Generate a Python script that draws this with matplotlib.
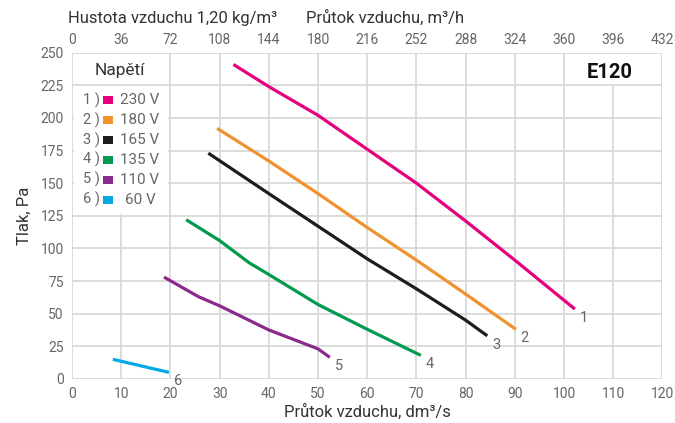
import matplotlib
matplotlib.use("Agg")
import matplotlib.pyplot as plt
from matplotlib.patches import Rectangle

# ---- data ----
x1 = [32.8, 40, 50, 60, 70, 80, 90, 102.2]
y1 = [241, 224, 202, 176, 150, 121, 91, 53.5]
x2 = [29.5, 40, 50, 60, 70, 80, 90.2]
y2 = [192, 167, 142, 116, 91, 65, 38]
x3 = [27.7, 40, 50, 60, 70, 80, 84.4]
y3 = [173, 142, 117, 92, 69, 45, 33]
x4 = [23.2, 30, 36, 40, 50, 60, 70.9]
y4 = [122, 106, 89, 80, 57, 38, 18]
x5 = [18.7, 25.7, 30, 40, 50, 52.4]
y5 = [78, 63, 56, 37.5, 23, 16.5]
x6 = [8.3, 19.7]
y6 = [15, 5]
series_x = [x1, x2, x3, x4, x5, x6]
series_y = [y1, y2, y3, y4, y5, y6]
curve_labels = ["1", "2", "3", "4", "5", "6"]
voltages = ["230 V", "180 V", "165 V", "135 V", "110 V", "60 V"]
colors = ["#e6007e", "#f0922e", "#1d1d1b", "#009a4e", "#8a2a8e", "#00a8e6"]
xticks = list(range(0, 121, 10))
yticks = list(range(0, 251, 25))
top_ticks = [0, 36, 72, 108, 144, 180, 216, 252, 288, 324, 360, 396, 432]

plt.rcParams['font.family'] = ['Roboto', 'DejaVu Sans']
TICK = "#666666"
TXT = "#333333"
GRID = "#d9d9d9"
FS = 10

fig = plt.figure(figsize=(6.75, 4.23), dpi=100)
ax = fig.add_axes([0.1067, 0.1043, 0.8747, 0.7711])
ax.set_xlim(0, 120)
ax.set_ylim(0, 250)
ax.set_xticks(xticks)
ax.set_yticks(yticks)
ax.grid(True, color=GRID, lw=1.3)
ax.set_axisbelow(True)
for s in ax.spines.values():
    s.set_visible(False)
ax.tick_params(length=0, labelsize=FS, labelcolor=TICK, pad=6)

# white boxes hiding grid under legend and title
ax.add_patch(Rectangle((0.4, 126), 19.2, 123.3, facecolor="white", edgecolor="none", zorder=1))
ax.add_patch(Rectangle((100.4, 226), 19.2, 23.3, facecolor="white", edgecolor="none", zorder=1))
ax.plot([0, 20], [225, 225], color=GRID, lw=1.3, zorder=1.5)

for xs, ys, c, lab in zip(series_x, series_y, colors, curve_labels):
    ax.plot(xs, ys, color=c, lw=2.3, solid_capstyle="butt", zorder=3)
    ax.annotate(lab, (xs[-1], ys[-1]), xytext=(5, -9), textcoords="offset pixels",
                ha="left", va="center", fontsize=10.5, color=TICK, zorder=4)

# legend
ax.text(9.7, 236.7, "Napětí", ha="center", va="center", fontsize=12.5, color=TXT, zorder=4)
row_y = [213.8, 198.5, 183.2, 167.9, 152.6, 137.3]
for i, (v, c, ry) in enumerate(zip(voltages, colors, row_y)):
    ax.text(5.6, ry, f"{i+1} )", ha="right", va="center", fontsize=10.5, color=TICK, zorder=4)
    ax.add_patch(Rectangle((6.3, ry - 3.2), 2.0, 6.4, facecolor=c, edgecolor="none", zorder=4))
    ax.text(13.8, ry, v, ha="center", va="center", fontsize=11, color=TICK, zorder=4)

ax.text(109.3, 235, "E120", ha="center", va="center", fontsize=14.5, fontweight="bold",
        color="#111111", zorder=4)

ax.set_xlabel("Průtok vzduchu, dm³/s", fontsize=12, color=TXT, labelpad=2)
ax.set_ylabel("Tlak, Pa", fontsize=12, color=TXT, labelpad=6)

top = ax.twiny()
top.set_xlim(0, 432)
top.set_xticks(top_ticks)
for s in top.spines.values():
    s.set_visible(False)
top.tick_params(length=0, labelsize=FS, labelcolor=TICK, pad=4)

fig.text(68 / 675, 1 - 18 / 423, "Hustota vzduchu 1,20 kg/m³", ha="left", va="center",
         fontsize=12, color=TXT)
fig.text(306 / 675, 1 - 18 / 423, "Průtok vzduchu, m³/h", ha="left", va="center",
         fontsize=12, color=TXT)

fig.savefig("out.png", dpi=100)
